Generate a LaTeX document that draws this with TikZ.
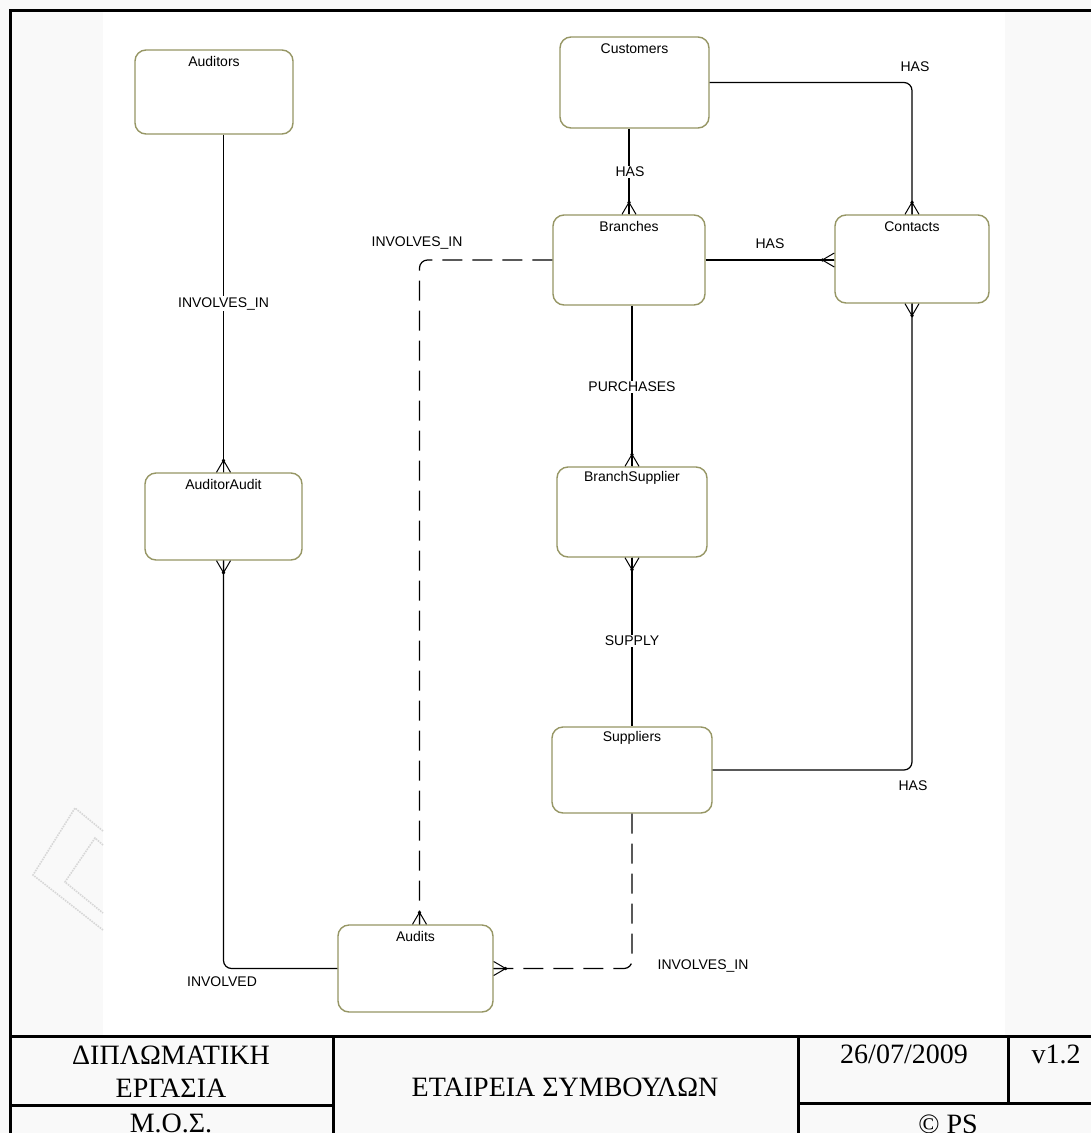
\documentclass[tikz,border=0pt]{standalone}
\usepackage{fontspec}
\setmainfont{Liberation Serif}
\newfontfamily\erfont{Liberation Sans}
\usetikzlibrary{calc}

\definecolor{entline}{RGB}{150,150,100}
\definecolor{pagegray}{RGB}{249,249,249}
\definecolor{wmark}{RGB}{215,215,215}

\tikzset{
  entity/.style={draw=entline, line width=1.4pt, rounded corners=11pt, fill=white,
    inner sep=0pt, font=\erfont\fontsize{14}{16}\selectfont},
  rel/.style={line width=1.2pt},
  optrel/.style={rel, dash pattern=on 20pt off 10pt},
  rlabel/.style={font=\erfont\fontsize{14}{16}\selectfont, fill=white, inner sep=1.5pt},
  cell/.style={font=\fontsize{28}{30}\selectfont, inner sep=0pt},
  crowN/.pic={\draw[line width=1pt] (0,0)--(0,-12) (-7,0)--(0,-12) (7,0)--(0,-12);
              \fill (0,-12) circle[radius=1.8];},
  crowS/.pic={\draw[line width=1pt] (0,0)--(0,12) (-7,0)--(0,12) (7,0)--(0,12);
              \fill (0,12) circle[radius=1.8];},
  crowW/.pic={\draw[line width=1pt] (0,0)--(-12,0) (0,-7)--(-12,0) (0,7)--(-12,0);
              \fill (-12,0) circle[radius=1.8];},
  crowE/.pic={\draw[line width=1pt] (0,0)--(12,0) (0,-7)--(12,0) (0,7)--(12,0);
              \fill (12,0) circle[radius=1.8];},
}

\begin{document}
\begin{tikzpicture}[x=1pt, y=-1pt]
\useasboundingbox (0,0) rectangle (1091,1133);

% paper and the white drawing area
\fill[pagegray] (0,0) rectangle (1091,1133);
\fill[white] (103,10) rectangle (1005,1036);

% faint watermark fragments at the left margin
\begin{scope}[draw=wmark, line width=1.6pt, densely dotted]
  \draw (103,831) -- (75,808) -- (33,875) -- (103,930);
  \draw (103,845) -- (95,838) -- (65,882) -- (103,913);
\end{scope}

% entities
\node[entity, minimum width=158pt, minimum height=84pt,
      label={[anchor=center, yshift=-12pt, font=\erfont\fontsize{14}{16}\selectfont]north:Auditors}]
      (auditors) at (214,92) {};
\node[entity, minimum width=149pt, minimum height=91pt,
      label={[anchor=center, yshift=-12pt, font=\erfont\fontsize{14}{16}\selectfont]north:Customers}]
      (customers) at (634.5,82.5) {};
\node[entity, minimum width=152pt, minimum height=90pt,
      label={[anchor=center, yshift=-12pt, font=\erfont\fontsize{14}{16}\selectfont]north:Branches}]
      (branches) at (629,260) {};
\node[entity, minimum width=154pt, minimum height=88pt,
      label={[anchor=center, yshift=-12pt, font=\erfont\fontsize{14}{16}\selectfont]north:Contacts}]
      (contacts) at (912,259) {};
\node[entity, minimum width=157pt, minimum height=87pt,
      label={[anchor=center, yshift=-12pt, font=\erfont\fontsize{14}{16}\selectfont]north:AuditorAudit}]
      (auditoraudit) at (223.5,516.5) {};
\node[entity, minimum width=150pt, minimum height=90pt,
      label={[anchor=center, yshift=-12pt, font=\erfont\fontsize{14}{16}\selectfont]north:BranchSupplier}]
      (branchsupplier) at (632,512) {};
\node[entity, minimum width=160pt, minimum height=86pt,
      label={[anchor=center, yshift=-12pt, font=\erfont\fontsize{14}{16}\selectfont]north:Suppliers}]
      (suppliers) at (632,770) {};
\node[entity, minimum width=155pt, minimum height=87pt,
      label={[anchor=center, yshift=-12pt, font=\erfont\fontsize{14}{16}\selectfont]north:Audits}]
      (audits) at (415.5,968.5) {};

\coordinate (auditsTop) at ($(audits.north)+(4,0)$);
\coordinate (contactsLeft) at (branches.east -| contacts.west);

% relationships
\draw[rel] (auditoraudit.north |- auditors.south) -- (auditoraudit.north)
  node[rlabel, pos=0.5] {INVOLVES\_IN};
\draw[rel, rounded corners=8pt] (auditoraudit.south) |- (audits.west);
\node[rlabel] (lInvolved) at (222,982) {INVOLVED};

\draw[rel] (branches.north |- customers.south) -- (branches.north);
\node[rlabel] (lHas1) at (630,172) {HAS};

\draw[rel, rounded corners=8pt] (customers.east) -| (contacts.north);
\node[rlabel] (lHas2) at (915,67) {HAS};

\draw[rel] (branches.east) -- (contactsLeft);
\node[rlabel] (lHas3) at (770,244) {HAS};

\draw[optrel, rounded corners=8pt] (branches.west) -| (auditsTop);
\node[rlabel] (lInv1) at (417,243) {INVOLVES\_IN};

\draw[rel] (branches.south -| branchsupplier.north) -- (branchsupplier.north);
\node[rlabel] (lPurch) at (632,387) {PURCHASES};

\draw[rel] (branchsupplier.south) -- (suppliers.north);
\node[rlabel] (lSupply) at (632,641) {SUPPLY};

\draw[rel, rounded corners=8pt] (suppliers.east) -| (contacts.south);
\node[rlabel] (lHas4) at (913,786) {HAS};

\draw[optrel, rounded corners=8pt] (suppliers.south) |- (audits.east);
\node[rlabel] (lInv2) at (703,966) {INVOLVES\_IN};

% crow's feet at the "many" ends
\pic at (auditoraudit.north) {crowN};
\pic at (auditoraudit.south) {crowS};
\pic at (branches.north) {crowN};
\pic at (contacts.north) {crowN};
\pic at (contactsLeft) {crowW};
\pic at (contacts.south) {crowS};
\pic at (branchsupplier.north) {crowN};
\pic at (branchsupplier.south) {crowS};
\pic at (auditsTop) {crowN};
\pic at (audits.east) {crowE};

% outer frame
\draw[line width=3pt] (10,1140) -- (10,10) -- (1100,10);

% title block
\begin{scope}[line width=3pt]
  \draw (10,1036) -- (1100,1036);
  \draw (333,1036) -- (333,1140);
  \draw (798,1036) -- (798,1140);
  \draw (1008,1036) -- (1008,1104);
  \draw (10,1105) -- (333,1105);
  \draw (798,1103) -- (1100,1103);
\end{scope}
\node[cell] (tDipl) at (171,1055) {ΔΙΠΛΩΜΑΤΙΚΗ};
\node[cell] (tErg) at (171,1088) {ΕΡΓΑΣΙΑ};
\node[cell] (tMos) at (171,1123) {Μ.Ο.Σ.};
\node[cell] (tTitle) at (565,1087) {ΕΤΑΙΡΕΙΑ ΣΥΜΒΟΥΛΩΝ};
\node[cell] (tDate) at (904,1054) {26/07/2009};
\node[cell] (tVer) at (1056,1054) {v1.2};
\node[cell] (tCopy) at (948,1124) {© PS};
\end{tikzpicture}
\end{document}
